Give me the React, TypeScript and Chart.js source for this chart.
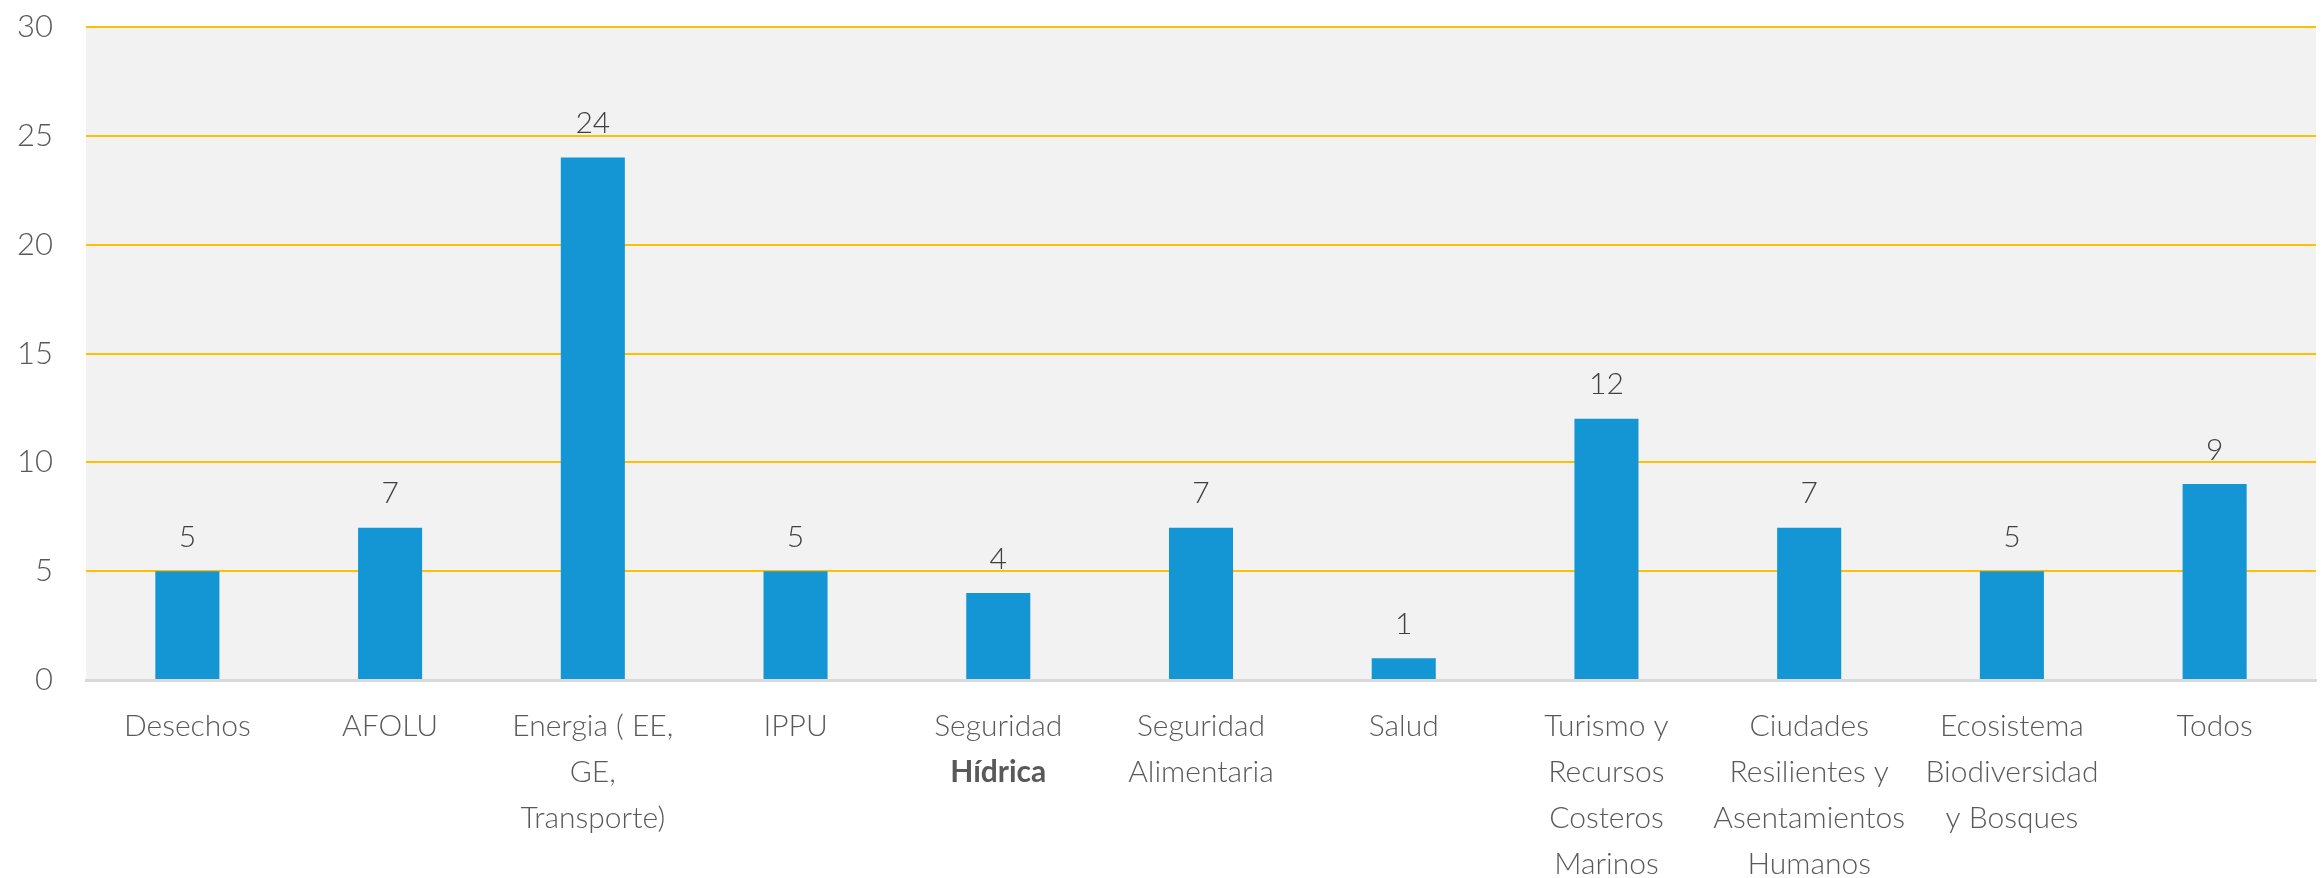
import React, { useEffect, useRef } from "react";
import { Chart, registerables } from "chart.js";

Chart.register(...registerables);

const categories: string[][] = [
  ["Desechos"],
  ["AFOLU"],
  ["Energia ( EE,", "GE,", "Transporte)"],
  ["IPPU"],
  ["Seguridad", "Hídrica"],
  ["Seguridad", "Alimentaria"],
  ["Salud"],
  ["Turismo y", "Recursos", "Costeros", "Marinos"],
  ["Ciudades", "Resilientes y", "Asentamientos", "Humanos"],
  ["Ecosistema", "Biodiversidad", "y Bosques"],
  ["Todos"],
];
const boldLines: string[] = ["Hídrica"];
const values: number[] = [5, 7, 24, 5, 4, 7, 1, 12, 7, 5, 9];
const yMin = 0;
const yMax = 30;
const yStep = 5;

const FONT = "Lato, 'Open Sans', sans-serif";

const bgPlugin = {
  id: "plotBg",
  beforeDraw(chart: any) {
    const { ctx, chartArea } = chart;
    ctx.save();
    ctx.fillStyle = "#F2F2F2";
    ctx.fillRect(chartArea.left, chartArea.top, chartArea.right - chartArea.left, chartArea.bottom - chartArea.top);
    ctx.restore();
  },
};

const labelPlugin = {
  id: "labels",
  afterDraw(chart: any) {
    const { ctx, chartArea } = chart;
    const xs = chart.scales.x;
    ctx.save();
    ctx.textAlign = "center";
    ctx.textBaseline = "middle";
    categories.forEach((lines, i) => {
      const x = xs.getPixelForValue(i);
      lines.forEach((line, j) => {
        const bold = boldLines.includes(line);
        ctx.font = bold ? `bold 30px ${FONT}` : `300 30px ${FONT}`;
        ctx.fillStyle = "#595959";
        ctx.fillText(line, x, chartArea.bottom + 46 + j * 46);
      });
    });
    const meta = chart.getDatasetMeta(0);
    ctx.font = `300 30px ${FONT}`;
    ctx.fillStyle = "#404040";
    meta.data.forEach((bar: any, i: number) => {
      ctx.fillText(String(values[i]), bar.x, bar.y - 34);
    });
    ctx.restore();
  },
};

export default function App() {
  const ref = useRef<HTMLCanvasElement>(null);
  useEffect(() => {
    document.body.style.margin = "0";
    const chart = new Chart(ref.current as HTMLCanvasElement, {
      type: "bar",
      data: {
        labels: categories.map((c) => c.join(" ")),
        datasets: [
          {
            data: values,
            backgroundColor: "#1496D4",
            barPercentage: 0.316,
            categoryPercentage: 1,
          },
        ],
      },
      options: {
        responsive: false,
        animation: false,
        layout: { padding: { top: 27, right: 7, bottom: 198, left: 0 } },
        plugins: { legend: { display: false }, tooltip: { enabled: false } },
        scales: {
          x: {
            ticks: { display: false },
            grid: { display: false, drawTicks: false },
            border: { display: true, color: "#D9D9D9", width: 3 },
            afterFit: (scale: any) => {
              scale.paddingTop = 0;
              scale.paddingBottom = 0;
              scale.paddingLeft = 0;
              scale.paddingRight = 0;
            },
          },
          y: {
            min: yMin,
            max: yMax,
            afterFit: (scale: any) => {
              scale.width = 86;
              scale.paddingTop = 0;
              scale.paddingBottom = 0;
            },
            ticks: {
              stepSize: yStep,
              padding: 33,
              color: "#595959",
              font: { family: FONT, size: 31, weight: "300" as any },
            },
            grid: {
              drawTicks: false,
              lineWidth: 2,
              color: (ctx: any) => (ctx.tick && ctx.tick.value === 0 ? "rgba(0,0,0,0)" : "#FFC000"),
            },
            border: { display: false },
          },
        },
      },
      plugins: [bgPlugin, labelPlugin],
    });
    return () => chart.destroy();
  }, []);
  return <canvas ref={ref} width={2323} height={878} style={{ display: "block" }} />;
}
